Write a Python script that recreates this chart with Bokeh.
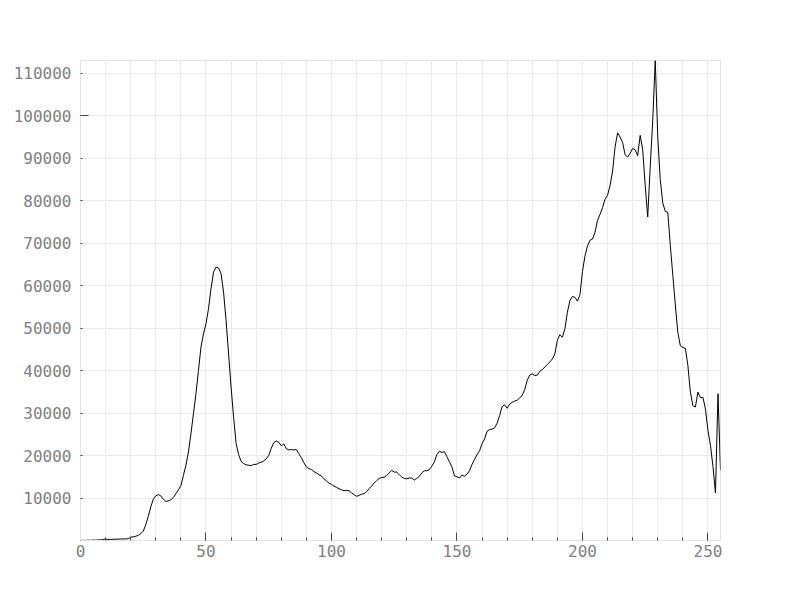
from bokeh.plotting import figure
from bokeh.models import LinearAxis, FixedTicker, SingleIntervalTicker, Range1d, BasicTickFormatter
from bokeh.embed import file_html
from bokeh.resources import INLINE

values = [
    100, 150, 120, 180, 150, 200, 180, 220, 250, 300,
    500, 300, 350, 380, 400, 420, 450, 460, 480, 520,
    900, 950, 1100, 1300, 1700, 2300, 3800, 5800, 8000, 9800,
    10600, 10900, 10600, 9800, 9300, 9400, 9700, 10200, 11100, 12000,
    13000, 15400, 17800, 20900, 25200, 29900, 34600, 40100, 45600, 48700,
    51100, 54600, 59300, 63200, 64400, 64200, 62900, 58500, 51900, 44000,
    36200, 29100, 22900, 20300, 18700, 18200, 17900, 17800, 17700, 18000,
    18000, 18300, 18500, 18800, 19300, 20100, 21800, 23100, 23500, 23200,
    22400, 22800, 21700, 21400, 21500, 21400, 21500, 20500, 19600, 18400,
    17400, 17000, 16800, 16300, 16000, 15600, 15300, 14600, 14100, 13600,
    13300, 12900, 12600, 12300, 12000, 11800, 11900, 11800, 11300, 10900,
    10500, 10700, 11000, 11100, 11600, 12300, 12900, 13600, 14200, 14700,
    14900, 15000, 15400, 16000, 16600, 16200, 16200, 15600, 15000, 14700,
    14600, 14800, 14800, 14300, 14700, 15200, 16000, 16500, 16500, 16800,
    17600, 18600, 20300, 21100, 20800, 21000, 19800, 18600, 17400, 15300,
    15100, 14800, 15500, 15200, 15700, 16500, 18000, 19200, 20300, 21200,
    22900, 24000, 25800, 26200, 26300, 26600, 27700, 29500, 31600, 32000,
    31200, 32200, 32600, 32900, 33100, 33600, 34300, 35600, 37800, 39000,
    39300, 38900, 39000, 39900, 40300, 40900, 41500, 42100, 42800, 44000,
    47200, 48500, 47900, 49900, 53800, 56500, 57500, 57300, 56400, 57900,
    63400, 67000, 69400, 70700, 71000, 72600, 75400, 76800, 78400, 80400,
    81300, 83600, 87000, 92700, 96000, 95000, 93700, 90800, 90300, 91200,
    92300, 92000, 90600, 95400, 92000, 83600, 76200, 88000, 99000, 113000,
    95000, 85000, 79500, 77500, 77300, 69500, 62500, 55500, 49000, 45900,
    45500, 45300, 41300, 35000, 31800, 31500, 35000, 33700, 33800, 31000,
    26000, 22500, 17500, 11300, 34600, 16600,
]
xs = list(range(len(values)))
y_label_ticks = [10000 * k for k in range(1, 12)]
y_major_tick = [100000]
x_grid_step = 10
x_label_step = 50

FONT = "DejaVu Sans Mono"
LABEL_COLOR = "#808080"
GRID_COLOR = "#ebebeb"
TICK_COLOR = "#444444"

p = figure(width=800, height=600, output_backend="svg", toolbar_location=None,
           x_range=Range1d(0, len(values) - 1),
           y_range=Range1d(min(values), max(values)),
           y_axis_location=None,
           min_border_left=80, min_border_right=80,
           min_border_top=60, min_border_bottom=60)
p.background_fill_color = "white"
p.border_fill_color = "white"
p.outline_line_color = "#e3e3e3"

# x axis
xa = p.xaxis[0]
xa.ticker = SingleIntervalTicker(interval=x_label_step, num_minor_ticks=5)
xa.axis_line_color = "#e3e3e3"
xa.major_tick_in = 8
xa.major_tick_out = 0
xa.minor_tick_in = 3
xa.minor_tick_out = 0
xa.major_tick_line_color = TICK_COLOR
xa.minor_tick_line_color = TICK_COLOR
xa.major_label_text_font = FONT
xa.major_label_text_font_size = "16px"
xa.major_label_text_color = LABEL_COLOR
xa.major_label_standoff = 4

# y tick axis (closest to plot, no labels)
ya_ticks = LinearAxis(
    ticker=FixedTicker(ticks=y_major_tick, minor_ticks=y_label_ticks),
    major_tick_in=8, major_tick_out=0, minor_tick_in=2, minor_tick_out=0,
    major_tick_line_color=TICK_COLOR, minor_tick_line_color=TICK_COLOR,
    axis_line_color="#e3e3e3",
    major_label_overrides={100000: ""},
    major_label_standoff=0,
    major_label_text_font_size="0px",
)
p.add_layout(ya_ticks, "left")

# y label axis
ya_labels = LinearAxis(
    ticker=FixedTicker(ticks=y_label_ticks),
    formatter=BasicTickFormatter(use_scientific=False),
    major_tick_in=0, major_tick_out=0, minor_tick_in=0, minor_tick_out=0,
    major_tick_line_color=None, minor_tick_line_color=None,
    axis_line_color=None,
    major_label_text_font=FONT,
    major_label_text_font_size="16px",
    major_label_text_color=LABEL_COLOR,
    major_label_standoff=9,
)
p.add_layout(ya_labels, "left")

p.xgrid.ticker = SingleIntervalTicker(interval=x_grid_step)
p.xgrid.grid_line_color = GRID_COLOR
p.ygrid.ticker = FixedTicker(ticks=y_label_ticks)
p.ygrid.grid_line_color = GRID_COLOR

p.line(xs, values, line_color="black", line_width=1, line_join="round")

open("out.html", "w").write(file_html(p, INLINE))
